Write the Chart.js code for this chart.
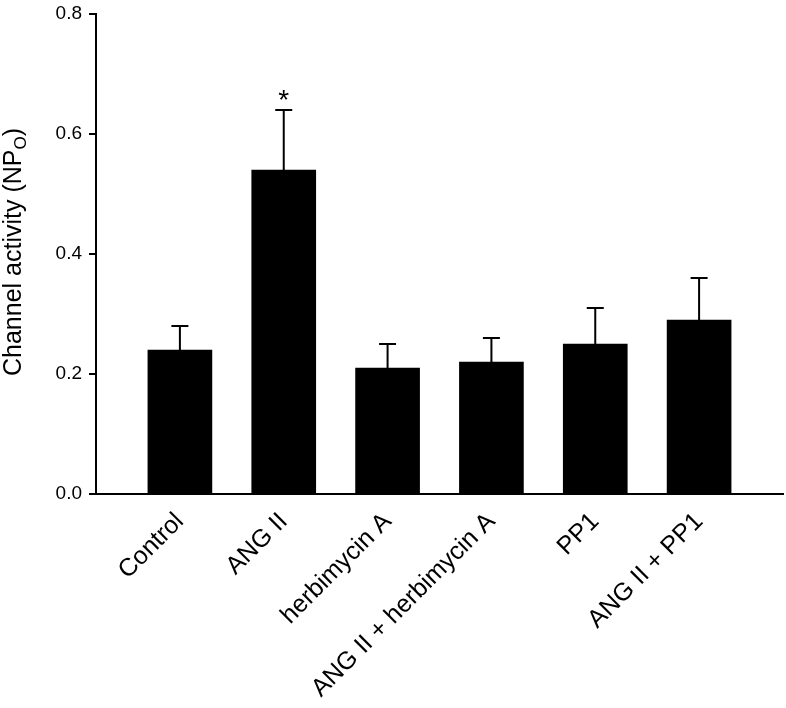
<!DOCTYPE html>
<html>
<head>
<meta charset="utf-8">
<script src="https://cdn.jsdelivr.net/npm/chart.js@4.4.1/dist/chart.umd.min.js"></script>
<style>
html,body{margin:0;padding:0;background:#fff;}
#wrap{width:786px;height:708px;position:relative;}
</style>
</head>
<body>
<div id="wrap"><canvas id="c" width="786" height="708"></canvas></div>
<script>
const categories = ["Control", "ANG II", "herbimycin A", "ANG II + herbimycin A", "PP1", "ANG II + PP1"];
const means = [0.24, 0.54, 0.21, 0.22, 0.25, 0.29];
const sem = [0.04, 0.10, 0.04, 0.04, 0.06, 0.07];
const significant = [false, true, false, false, false, false];
const yTicks = [0.0, 0.2, 0.4, 0.6, 0.8];
const yTitle = "Channel activity (NP";
const yTitleSub = "O";

const FONT = "'Liberation Sans', Arial, sans-serif";

const errorBars = {
  id: 'errorBars',
  afterDatasetsDraw(chart) {
    const ctx = chart.ctx, xs = chart.scales.x, ys = chart.scales.y;
    ctx.save();
    ctx.strokeStyle = '#000';
    ctx.lineWidth = 2;
    means.forEach((m, i) => {
      const x = xs.getPixelForValue(i);
      const y0 = ys.getPixelForValue(m);
      const y1 = ys.getPixelForValue(m + sem[i]);
      ctx.beginPath();
      ctx.moveTo(x, y0);
      ctx.lineTo(x, y1);
      ctx.moveTo(x - 8.5, y1);
      ctx.lineTo(x + 8.5, y1);
      ctx.stroke();
      if (significant[i]) {
        ctx.fillStyle = '#000';
        ctx.font = '28px ' + FONT;
        ctx.textAlign = 'center';
        ctx.textBaseline = 'alphabetic';
        ctx.fillText('*', x, y1 - 1);
      }
    });
    ctx.restore();
  }
};

const yTitlePlugin = {
  id: 'yTitlePlugin',
  afterDraw(chart) {
    const ctx = chart.ctx, ys = chart.scales.y;
    ctx.save();
    const big = '25px ' + FONT, small = '17px ' + FONT;
    ctx.font = big;
    const w1 = ctx.measureText(yTitle).width;
    const wClose = ctx.measureText(')').width;
    ctx.font = small;
    const w2 = ctx.measureText(yTitleSub).width;
    const total = w1 + w2 + wClose;
    const cy = (ys.top + ys.bottom) / 2 - 2;
    ctx.translate(20.5, cy);
    ctx.rotate(-Math.PI / 2);
    ctx.fillStyle = '#000';
    ctx.textBaseline = 'alphabetic';
    ctx.textAlign = 'left';
    let x = -total / 2;
    ctx.font = big;
    ctx.fillText(yTitle, x, 0);
    x += w1;
    ctx.font = small;
    ctx.fillText(yTitleSub, x, 5);
    x += w2;
    ctx.font = big;
    ctx.fillText(')', x, 0);
    ctx.restore();
  }
};

const ctx = document.getElementById('c').getContext('2d');
new Chart(ctx, {
  type: 'bar',
  data: {
    datasets: [{
      data: means.map((v, i) => ({ x: i, y: v })),
      backgroundColor: '#000',
      borderWidth: 0,
      barThickness: 64
    }]
  },
  options: {
    responsive: false,
    animation: false,
    devicePixelRatio: 1,
    layout: { padding: { left: 0, right: 3, top: 14, bottom: 0 } },
    plugins: { legend: { display: false }, tooltip: { enabled: false } },
    scales: {
      x: {
        type: 'linear',
        offset: false,
        min: -0.808,
        max: 5.808,
        afterBuildTicks(scale) {
          scale.ticks = categories.map((c, i) => ({ value: i }));
        },
        afterFit(scale) { scale.height = 214; scale.paddingLeft = 0; scale.paddingRight = 0; },
        grid: { display: false },
        border: { display: true, color: '#000', width: 2 },
        ticks: {
          autoSkip: false,
          minRotation: 45,
          maxRotation: 45,
          padding: 5,
          color: '#000',
          font: { family: FONT, size: 25 },
          callback: (v) => categories[v] !== undefined ? categories[v] : ''
        }
      },
      y: {
        min: 0,
        max: 0.8,
        afterBuildTicks(scale) {
          scale.ticks = yTicks.map(v => ({ value: v }));
        },
        afterFit(scale) { scale.width = 96; scale.paddingTop = 0; scale.paddingBottom = 0; },
        grid: { display: true, drawOnChartArea: false, drawTicks: true, tickLength: 7, color: '#000', lineWidth: 2 },
        border: { display: true, color: '#000', width: 2 },
        ticks: {
          padding: 7,
          color: '#000',
          font: { family: FONT, size: 19 },
          callback: (v) => v.toFixed(1)
        }
      }
    }
  },
  plugins: [errorBars, yTitlePlugin]
});
</script>
</body>
</html>
